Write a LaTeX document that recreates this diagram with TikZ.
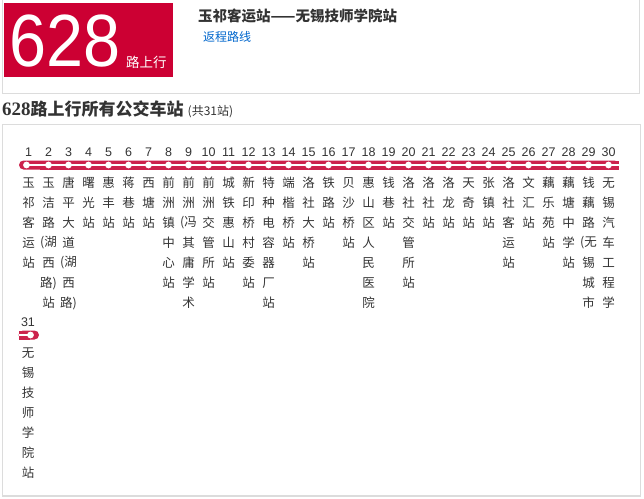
\documentclass[tikz,border=0pt]{standalone}
\usepackage{fontspec}
\setmainfont{Liberation Sans}
\newfontfamily\cjk{Noto Sans CJK SC}
\newfontfamily\serifnum{Liberation Serif}
\definecolor{busred}{HTML}{CC0033}
\definecolor{barred}{RGB}{204,34,76}
\definecolor{txt}{HTML}{333333}
\definecolor{framegray}{HTML}{DCDCDC}
\definecolor{linkblue}{HTML}{0066CC}
\newcommand\myLP{(}
\newcommand\myRP{)}
\begin{document}
\begin{tikzpicture}[x=1pt,y=-1pt,
  stopnum/.style={font=\fontsize{12.5}{12.5}\selectfont, text=txt, inner sep=0pt},
  stopchar/.style={font=\cjk\fontsize{12.5}{12.5}\selectfont, text=txt, inner sep=0pt},
  framebox/.style={draw=framegray, line width=1.6pt},
  trackbar/.style={fill=barred},
  dotmark/.style={fill=white}]
\useasboundingbox (0,0) rectangle (644,498);

% frames
\draw[framebox] (2.5,-3) -- (2.5,93.5) -- (639.5,93.5) -- (639.5,-3);
\draw[framebox] (2.5,124.5) rectangle (640.5,496);

% header
\fill[busred] (4,3) rectangle (173,77);
\node[anchor=base west, inner sep=0pt, text=white, font=\fontsize{74}{74}\selectfont] (bignum) at (9,66) {\scalebox{0.9}[1]{628}};
\node[anchor=west, inner sep=0pt, text=white, font=\cjk\fontsize{13.5}{14}\selectfont] (dir) at (126,62) {路上行};
\node[anchor=west, inner sep=0pt, text=txt, font=\cjk\bfseries\fontsize{14.5}{15}\selectfont] (route) at (198,16) {玉祁客运站——无锡技师学院站};
\node[anchor=west, inner sep=0pt, text=linkblue, font=\cjk\fontsize{12}{12}\selectfont] (back) at (203,37) {返程路线};

% section title
\node[anchor=base west, inner sep=0pt, text=txt] (title) at (2,115) {{\serifnum\bfseries\fontsize{19}{19}\selectfont 628}{\cjk\bfseries\fontsize{17}{17}\selectfont 路上行所有公交车站}\hspace{4pt}{\cjk\fontsize{12}{12}\selectfont (共31站)}};

% track row 1
\fill[trackbar, rounded corners=4.5pt] (19,160.5) rectangle (619,169.5);
\fill[trackbar] (40,160.5) rectangle (619,169.5);
\draw[white, line width=2pt] (26.5,165) -- (619,165);
\fill[dotmark] (26.5,165) circle (3.4pt);
\foreach \i in {2,...,30}{
  \fill[dotmark] ({28.5+20*(\i-1)},165) circle (3.4pt);
}

\foreach \i/\nm in {
1/{玉,祁,客,运,站},
2/{玉,洁,路,\myLP{}湖,西,路\myRP,站},
3/{唐,平,大,道,\myLP{}湖,西,路\myRP},
4/{曙,光,站},
5/{惠,丰,站},
6/{蒋,巷,站},
7/{西,塘,站},
8/{前,洲,镇,中,心,站},
9/{前,洲,\myLP{}冯,其,庸,学,术},
10/{前,洲,交,管,所,站},
11/{城,铁,惠,山,站},
12/{新,印,桥,村,委,站},
13/{特,种,电,容,器,厂,站},
14/{端,楷,桥,站},
15/{洛,社,大,桥,站},
16/{铁,路,站},
17/{贝,沙,桥,站},
18/{惠,山,区,人,民,医,院},
19/{钱,巷,站},
20/{洛,社,交,管,所,站},
21/{洛,社,站},
22/{洛,龙,站},
23/{天,奇,站},
24/{张,镇,站},
25/{洛,社,客,运,站},
26/{文,汇,站},
27/{藕,乐,苑,站},
28/{藕,塘,中,学,站},
29/{钱,藕,路,\myLP{}无,锡,城,市},
30/{无,锡,汽,车,工,程,学}}
{
  \pgfmathsetmacro\xx{28.5+20*(\i-1)}
  \node[stopnum] (n\i) at (\xx,152) {\i};
  \foreach \c [count=\j from 0] in \nm {
    \node[stopchar] (s\i-\j) at (\xx,183+20*\j) {\c};
  }
}

% row 2
\node[stopnum] (n31) at (28,322) {31};
\fill[trackbar, rounded corners=4.5pt] (18.5,330.5) rectangle (39,339.5);
\fill[trackbar] (18.5,330.5) rectangle (30,339.5);
\draw[white, line width=2pt] (18.5,335) -- (30.5,335);
\fill[dotmark] (30.5,335) circle (3.4pt);
\foreach \c [count=\j from 0] in {无,锡,技,师,学,院,站} {
  \node[stopchar] (s31-\j) at (28,353+20*\j) {\c};
}
\end{tikzpicture}
\end{document}
